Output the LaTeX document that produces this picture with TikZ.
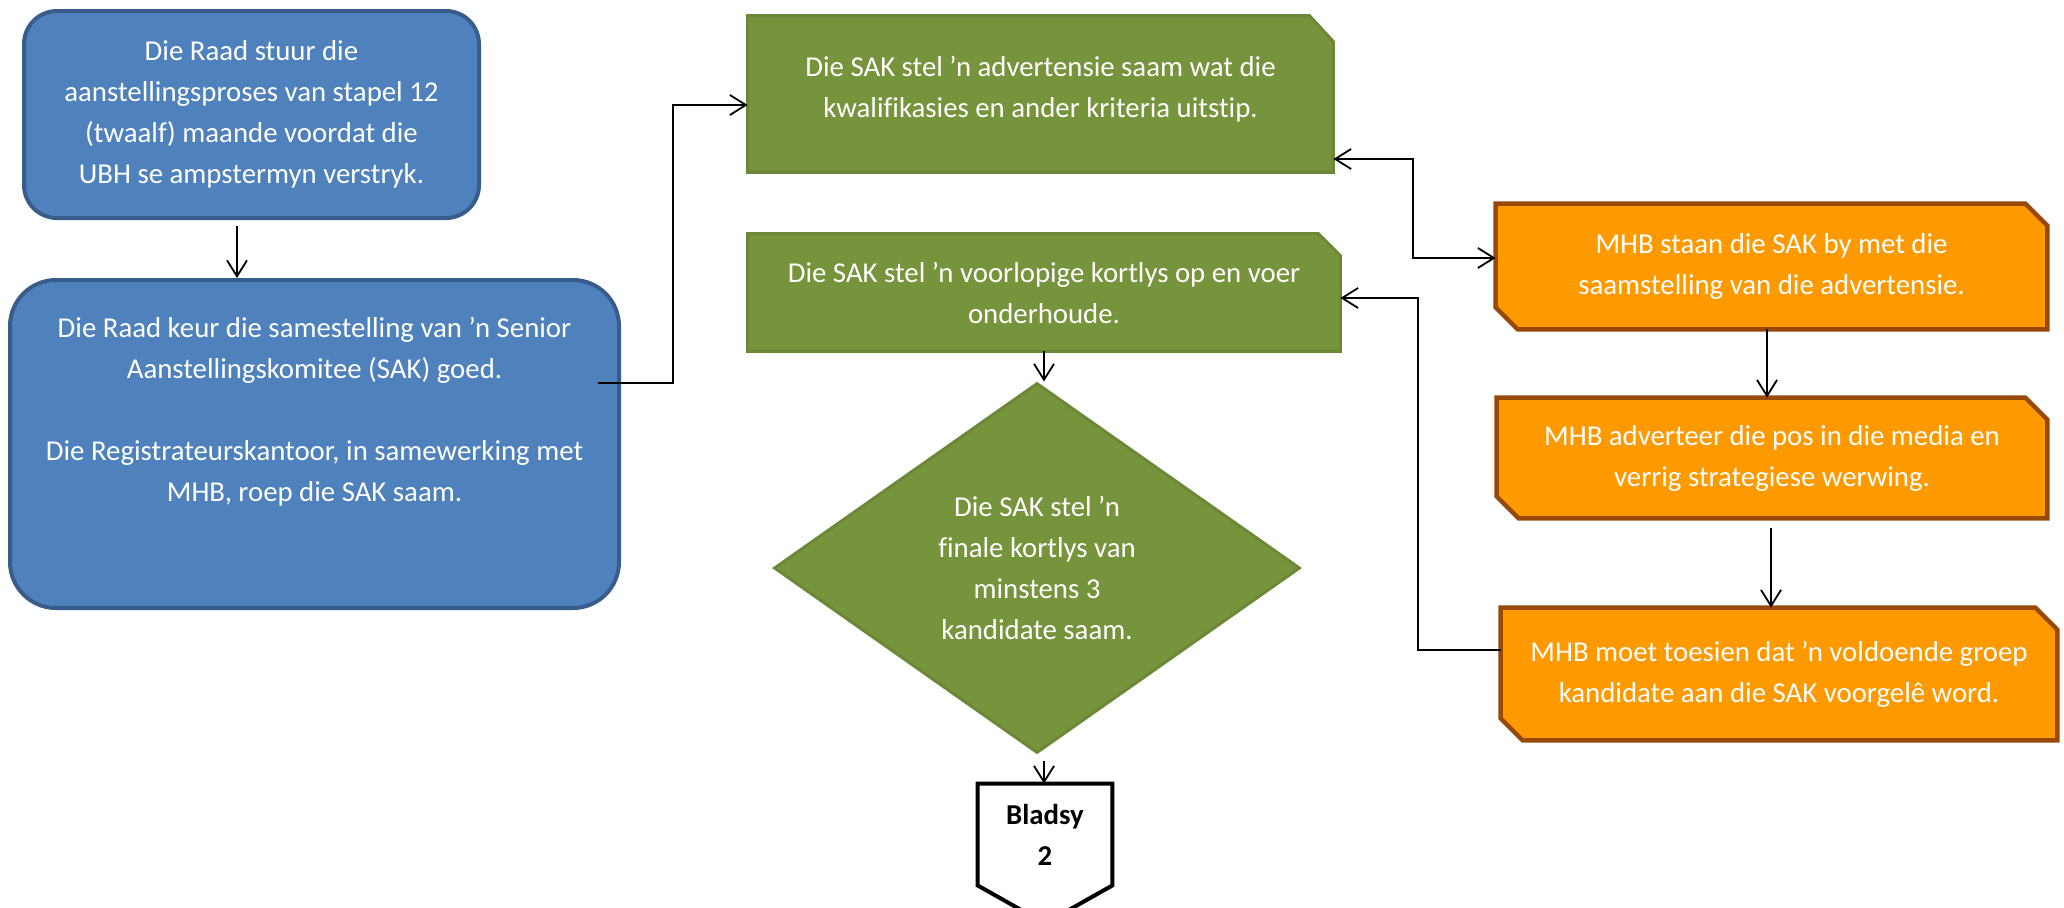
\documentclass[tikz,border=0pt]{standalone}
\usepackage{fontspec}
\setmainfont{Carlito}[RawFeature={-liga}]
\usetikzlibrary{arrows.meta,shapes.geometric,calc}
\definecolor{bluefill}{HTML}{4F81BD}
\definecolor{blueline}{HTML}{385D8A}
\definecolor{greenfill}{HTML}{77933C}
\definecolor{greenline}{HTML}{6C8836}
\definecolor{orangefill}{HTML}{FF9900}
\definecolor{orangeline}{HTML}{984807}
\pgfdeclarelayer{bg}
\pgfsetlayers{bg,main}
\tikzset{
  txt/.style={font=\fontsize{14.4}{20.5}\selectfont, text=white, align=center, inner sep=0pt},
  bluebox/.style={txt, draw=blueline, fill=bluefill, line width=2pt, rounded corners=#1},
  greenshape/.style={draw=greenline, fill=greenfill, line width=1.5pt},
  orangeshape/.style={draw=orangeline, fill=orangefill, line width=2.2pt},
  pageshape/.style={draw=black, fill=white, line width=2pt},
  arr/.style={-{Straight Barb[length=8pt,width=10pt]}, line width=0.9pt, black},
  arrboth/.style={{Straight Barb[length=8pt,width=10pt]}-{Straight Barb[length=8pt,width=10pt]}, line width=0.9pt, black}
}
\begin{document}
\begin{tikzpicture}[x=0.5pt,y=-0.5pt]
\useasboundingbox (0,0) rectangle (2064,907);
\clip (0,0) rectangle (2064,907);

% blue boxes
\node[bluebox=16.5pt, minimum width=227.5pt, minimum height=103.5pt] (b1) at (251.5,114.5)
  {Die Raad stuur die\\aanstellingsproses van stapel 12\\(twaalf) maande voordat die\\UBH se ampstermyn verstryk.};
\node[bluebox=23pt, minimum width=304.5pt, minimum height=164pt] (b2) at (314.5,444) {};
\node[txt] (b2t) at (314.5,411.5)
  {Die Raad keur die samestelling van ’n Senior\\Aanstellingskomitee (SAK) goed.\\[20.5pt]Die Registrateurskantoor, in samewerking met\\MHB, roep die SAK saam.};

% green boxes
\node[minimum width=292.5pt, minimum height=78pt, inner sep=0pt] (g1) at (1040.5,94) {};
\node[txt] (g1t) at (1040.5,89.5)
  {Die SAK stel ’n advertensie saam wat die\\kwalifikasies en ander kriteria uitstip.};
\node[txt, minimum width=296pt, minimum height=58.5pt] (g2) at (1044,292.5)
  {Die SAK stel ’n voorlopige kortlys op en voer\\onderhoude.};
\node[txt, diamond, aspect=1.42, draw=greenline, fill=greenfill, line width=1.5pt,
  minimum width=263pt, minimum height=185pt] (d) at (1037,568)
  {Die SAK stel ’n\\finale kortlys van\\minstens 3\\kandidate saam.};

% page connector
\node[txt, text=black, font=\fontsize{14.4}{20.5}\selectfont\bfseries,
  minimum width=67pt, minimum height=50.5pt] (bl) at (1045,834.5) {Bladsy\\2};

% orange boxes
\node[txt, minimum width=275.5pt, minimum height=62.5pt] (o1) at (1771.5,266.5)
  {MHB staan die SAK by met die\\saamstelling van die advertensie.};
\node[txt, minimum width=275pt, minimum height=60pt] (o2) at (1772,458)
  {MHB adverteer die pos in die media en\\verrig strategiese werwing.};
\node[txt, minimum width=278pt, minimum height=66pt] (o3) at (1779,674)
  {MHB moet toesien dat ’n voldoende groep\\kandidate aan die SAK voorgelê word.};

\begin{pgfonlayer}{bg}
  \path[greenshape] (g1.north west) -- ([xshift=-12pt]g1.north east) -- ([yshift=-13pt]g1.north east)
    -- (g1.south east) -- (g1.south west) -- cycle;
  \path[greenshape] (g2.north west) -- ([xshift=-11pt]g2.north east) -- ([yshift=-11pt]g2.north east)
    -- (g2.south east) -- (g2.south west) -- cycle;
  \foreach \o in {o1,o2,o3}{
    \path[orangeshape] (\o.north west) -- ([xshift=-11pt]\o.north east) -- ([yshift=-11pt]\o.north east)
      -- (\o.south east) -- ([xshift=11pt]\o.south west) -- ([yshift=11pt]\o.south west) -- cycle;
  }
  \path[pageshape] (bl.north west) -- (bl.north east) -- (bl.south east)
    -- ($(bl.south)+(0,38)$) -- (bl.south west) -- cycle;
\end{pgfonlayer}

% connectors
\draw[arr, shorten <=3pt] (b1.south -| 237,0) -- (b2.north -| 237,0);
\draw[arr] ($(b2.east |- 0,383)+(-23,0)$) -- (673,383) |- (g1.west |- 0,105);
\draw[arrboth] (g1.east |- 0,159) -- (1413,159) |- (o1.west |- 0,258);
\draw[arr] (o1.south -| 1767,0) -- (o2.north -| 1767,0);
\draw[arr, shorten <=5pt] (o2.south -| 1771,0) -- (o3.north -| 1771,0);
\draw[arr] (o3.west |- 0,650) -- (1418,650) |- (g2.east |- 0,298);
\draw[arr] (g2.south -| 1044,0) -- (d.north -| 1044,0);
\draw[arr, shorten <=3pt] (d.south -| 1044,0) -- (bl.north -| 1044,0);
\end{tikzpicture}
\end{document}
